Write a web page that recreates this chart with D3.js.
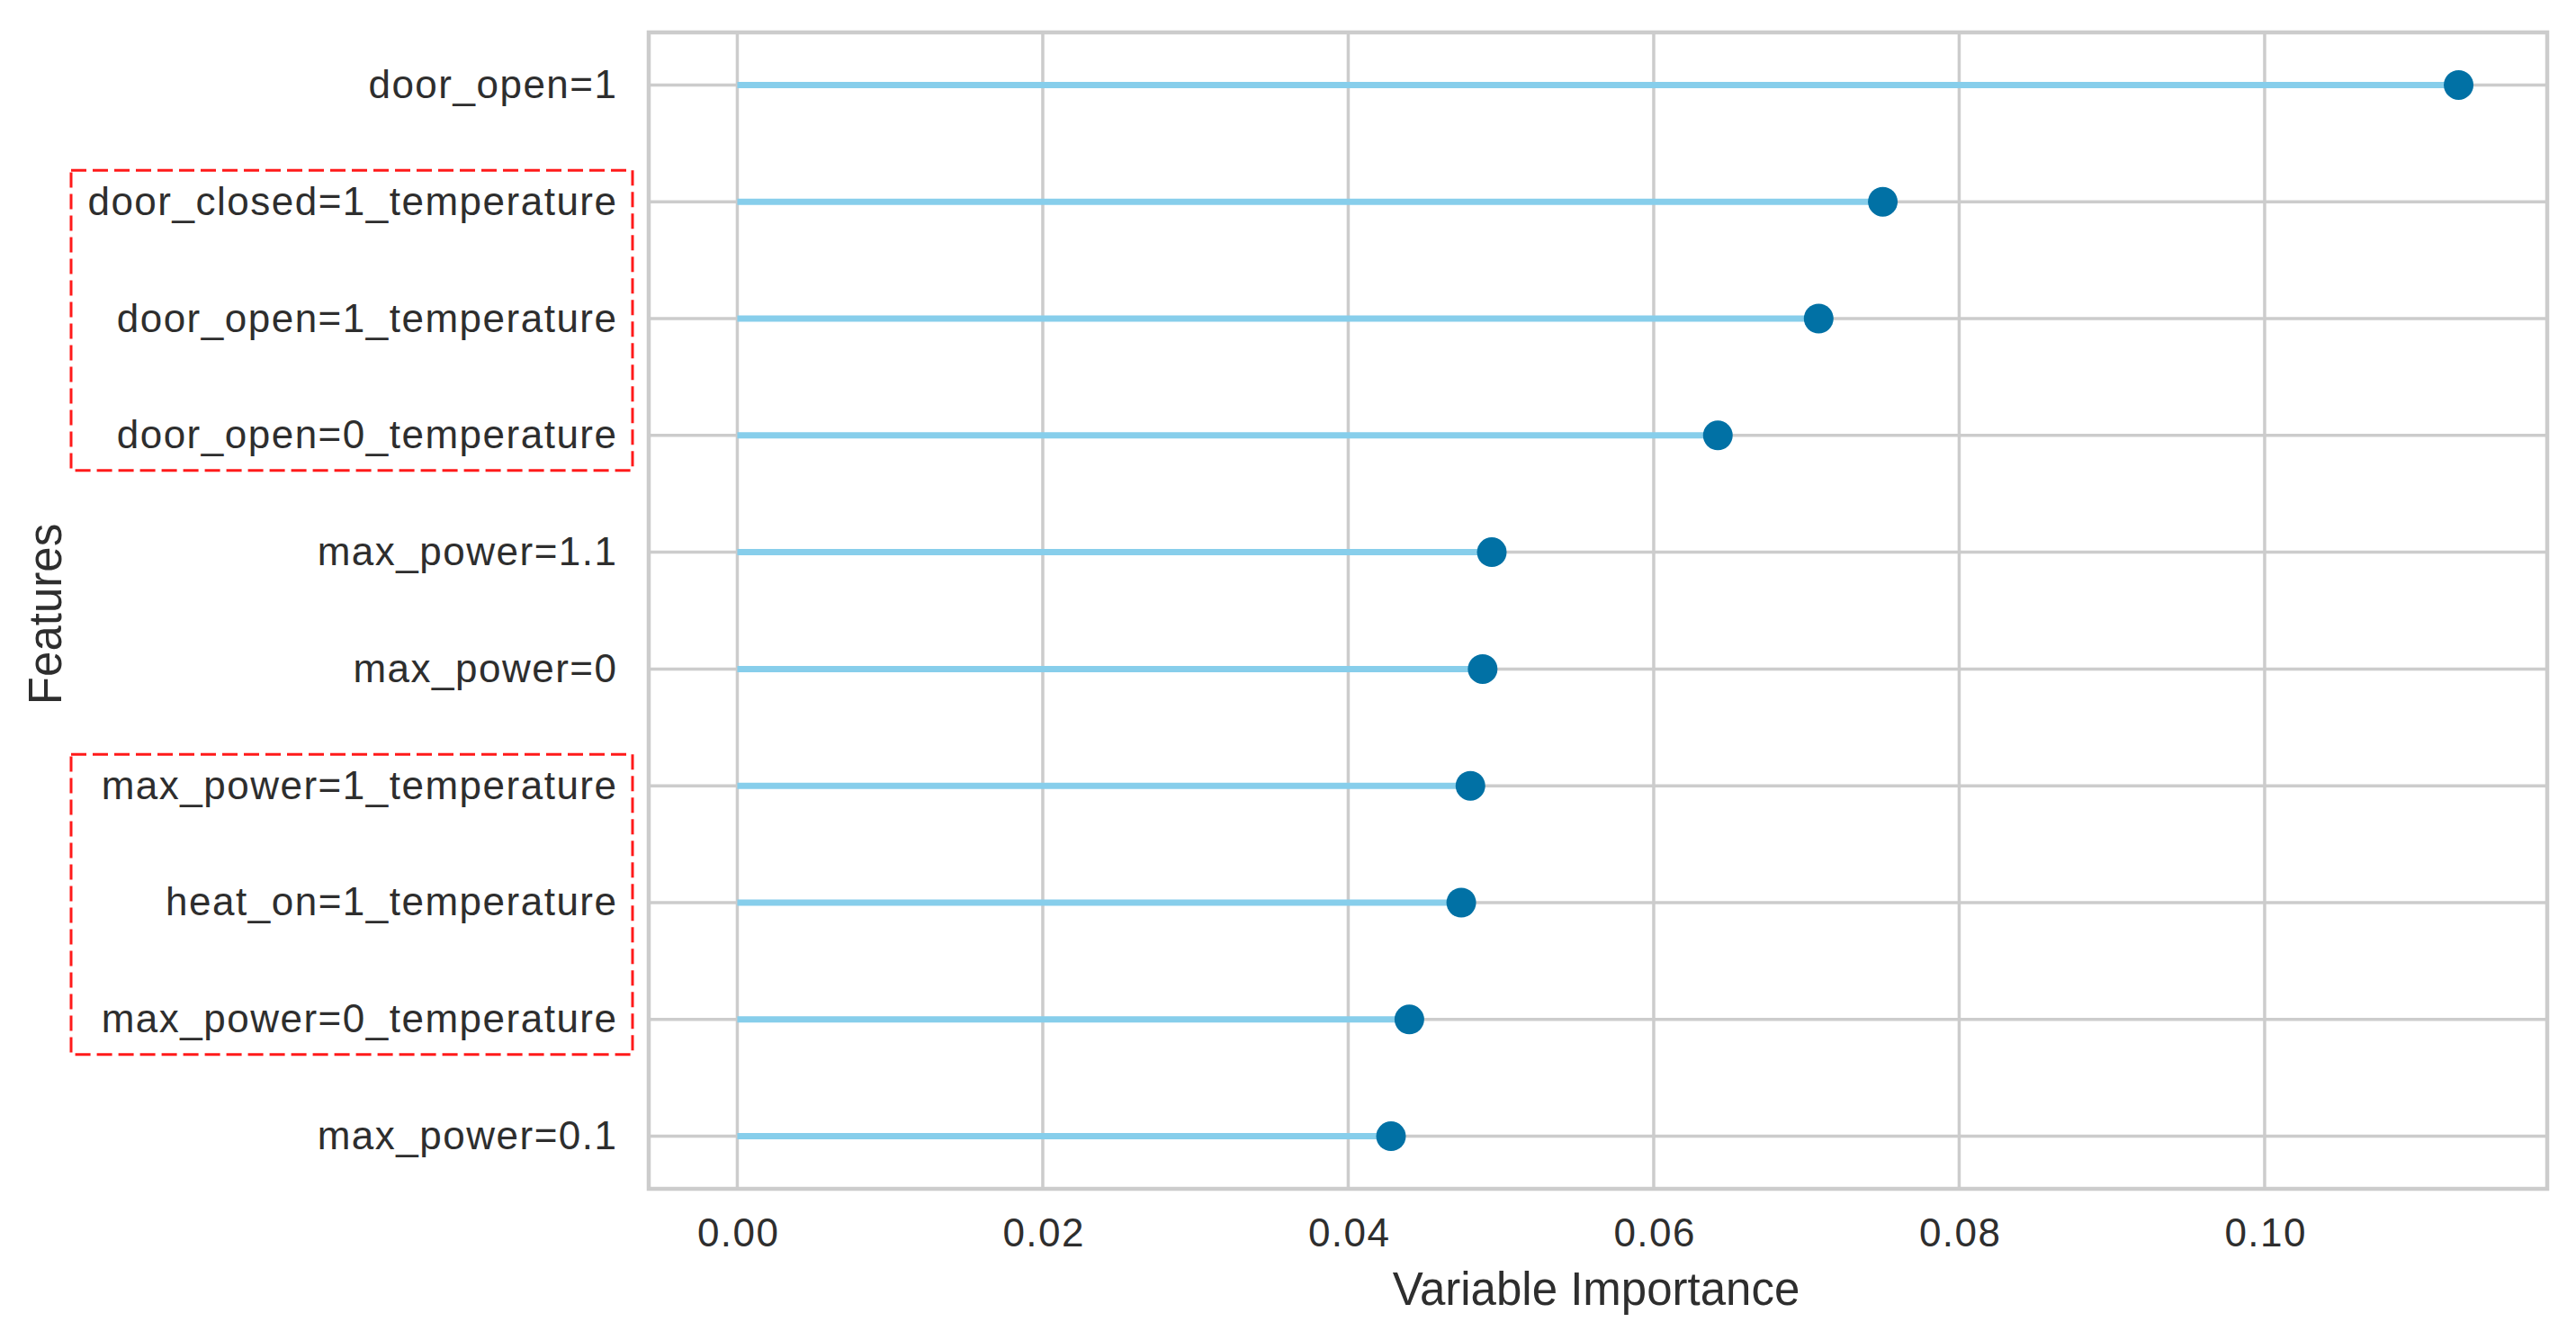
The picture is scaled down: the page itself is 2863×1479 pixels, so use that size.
<!DOCTYPE html>
<html>
<head>
<meta charset="utf-8">
<script src="https://cdn.jsdelivr.net/npm/d3@7"></script>
<style>
  html, body { margin: 0; padding: 0; background: #ffffff; }
  svg { display: block; }
</style>
</head>
<body>
<script>
// ---- data ----
const features = [
  "door_open=1",
  "door_closed=1_temperature",
  "door_open=1_temperature",
  "door_open=0_temperature",
  "max_power=1.1",
  "max_power=0",
  "max_power=1_temperature",
  "heat_on=1_temperature",
  "max_power=0_temperature",
  "max_power=0.1"
];
const importance = [0.1127, 0.0750, 0.0708, 0.0642, 0.0494, 0.0488, 0.0480, 0.0474, 0.0440, 0.0428];
const xTicks = [0.00, 0.02, 0.04, 0.06, 0.08, 0.10];
const xTickLabels = ["0.00", "0.02", "0.04", "0.06", "0.08", "0.10"];
const highlightGroups = [
  ["door_closed=1_temperature", "door_open=1_temperature", "door_open=0_temperature"],
  ["max_power=1_temperature", "heat_on=1_temperature", "max_power=0_temperature"]
];
const xLabel = "Variable Importance";
const yLabel = "Features";

// ---- layout ----
const W = 2863, H = 1479;
const plot = { left: 721, right: 2831, top: 36, bottom: 1321 };
const font = "'Liberation Sans', Arial, Helvetica, sans-serif";
const textColor = "#2e2e2e";
const gridColor = "#cccccc";

const svg = d3.select("body").append("svg")
  .attr("width", W).attr("height", H)
  .attr("viewBox", `0 0 ${W} ${H}`);

const x = d3.scaleLinear().domain([-0.0058, 0.1185]).range([plot.left, plot.right]);
const y = d3.scalePoint().domain(features).range([plot.top, plot.bottom]).padding(0.45);

const data = features.map((f, i) => ({ f, v: importance[i] }));

// grid
const grid = svg.append("g");
grid.selectAll("line.vg").data(xTicks).join("line")
  .attr("x1", d => x(d)).attr("x2", d => x(d))
  .attr("y1", plot.top).attr("y2", plot.bottom)
  .attr("stroke", gridColor).attr("stroke-width", 3.5);
grid.selectAll("line.hg").data(features).join("line")
  .attr("x1", plot.left).attr("x2", plot.right)
  .attr("y1", d => y(d)).attr("y2", d => y(d))
  .attr("stroke", gridColor).attr("stroke-width", 3.5);

// lollipop stems
svg.append("g").selectAll("line").data(data).join("line")
  .attr("x1", x(0)).attr("x2", d => x(d.v))
  .attr("y1", d => y(d.f)).attr("y2", d => y(d.f))
  .attr("stroke", "#87ceeb").attr("stroke-width", 7);

// dots
svg.append("g").selectAll("circle").data(data).join("circle")
  .attr("cx", d => x(d.v)).attr("cy", d => y(d.f))
  .attr("r", 16.5)
  .attr("fill", "#0171a5");

// frame
svg.append("rect")
  .attr("x", plot.left).attr("y", plot.top)
  .attr("width", plot.right - plot.left).attr("height", plot.bottom - plot.top)
  .attr("fill", "none").attr("stroke", gridColor).attr("stroke-width", 4.5);

// x axis (no tick marks, labels only)
const xAxis = d3.axisBottom(x).tickValues(xTicks)
  .tickFormat((d, i) => xTickLabels[i]).tickSize(0).tickPadding(0);
const gx = svg.append("g").attr("transform", `translate(0,${plot.bottom})`).call(xAxis);
gx.select(".domain").remove();
gx.selectAll("text")
  .attr("y", 64).attr("dy", null)
  .attr("dx", 0.75)
  .style("font-family", font).style("font-size", "44px")
  .style("letter-spacing", "1.5px")
  .attr("fill", textColor);

// y axis
const yAxis = d3.axisLeft(y).tickSize(0).tickPadding(0);
const gy = svg.append("g").attr("transform", `translate(${plot.left},0)`).call(yAxis);
gy.select(".domain").remove();
gy.selectAll("text")
  .attr("x", 686.5 - plot.left).attr("dy", null).attr("y", 14)
  .style("font-family", font).style("font-size", "44px")
  .style("letter-spacing", "1.5px")
  .attr("fill", textColor);

// axis titles
svg.append("text")
  .attr("x", (plot.left + plot.right) / 2 - 2).attr("y", 1450)
  .attr("text-anchor", "middle")
  .style("font-family", font).style("font-size", "51px")
  .attr("fill", textColor)
  .text(xLabel);

svg.append("text")
  .attr("transform", `translate(68,${(plot.top + plot.bottom) / 2 + 4}) rotate(-90)`)
  .attr("text-anchor", "middle")
  .style("font-family", font).style("font-size", "51px")
  .attr("fill", textColor)
  .text(yLabel);

// highlight boxes
svg.append("g").selectAll("rect").data(highlightGroups).join("rect")
  .attr("x", 79)
  .attr("y", g => y(g[0]) - 35)
  .attr("width", 703 - 79)
  .attr("height", g => y(g[g.length - 1]) - y(g[0]) + 74)
  .attr("fill", "none")
  .attr("stroke", "#ff1a1a").attr("stroke-width", 3)
  .attr("stroke-dasharray", "17 7");
</script>
</body>
</html>
